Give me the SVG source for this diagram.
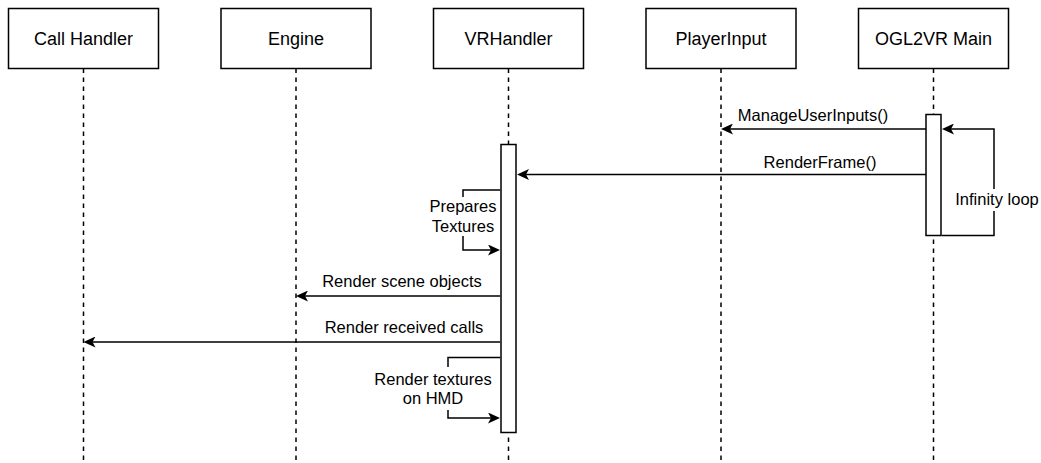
<svg xmlns="http://www.w3.org/2000/svg" width="1041" height="463" viewBox="0 0 1041 463">
  <style>
    .box { fill: #ffffff; stroke: #000000; stroke-width: 1.5; }
    .bar { fill: #ffffff; stroke: #000000; stroke-width: 1.5; }
    .life { fill: none; stroke: #000000; stroke-width: 1.5; stroke-dasharray: 4.5 4.5; }
    .msg { fill: none; stroke: #000000; stroke-width: 1.5; marker-end: url(#arrow); }
    .title { font-family: "Liberation Sans", Arial, Helvetica, sans-serif; font-size: 18px; fill: #000000; text-anchor: middle; }
    .lbl { font-family: "Liberation Sans", Arial, Helvetica, sans-serif; font-size: 16.5px; fill: #000000; text-anchor: middle; }
    .bg { fill: #ffffff; stroke: none; }
  </style>
  <defs>
    <marker id="arrow" viewBox="0 0 12 11" refX="8" refY="5.5" markerWidth="12" markerHeight="11" markerUnits="userSpaceOnUse" orient="auto">
      <path d="M12 5.5 L0 0 L3 5.5 L0 11 Z" fill="#000000"/>
    </marker>
  </defs>
  <rect width="1041" height="463" fill="#ffffff"/>

  <!-- lifelines -->
  <g id="lifelines">
    <line class="life" x1="83.5" y1="68.5" x2="83.5" y2="463"/>
    <line class="life" x1="296" y1="68.5" x2="296" y2="463"/>
    <line class="life" x1="508.5" y1="68.5" x2="508.5" y2="463"/>
    <line class="life" x1="721" y1="68.5" x2="721" y2="463"/>
    <line class="life" x1="933.5" y1="68.5" x2="933.5" y2="463"/>
  </g>

  <!-- participants -->
  <g id="call-handler">
    <rect class="box" x="8.5" y="8.5" width="150" height="60"/>
    <text class="title" x="83.5" y="45">Call Handler</text>
  </g>
  <g id="engine">
    <rect class="box" x="221" y="8.5" width="150" height="60"/>
    <text class="title" x="296" y="45">Engine</text>
  </g>
  <g id="vrhandler">
    <rect class="box" x="433.5" y="8.5" width="150" height="60"/>
    <text class="title" x="508.5" y="45">VRHandler</text>
    <rect class="bar" x="501" y="144.5" width="15" height="288"/>
  </g>
  <g id="player-input">
    <rect class="box" x="646" y="8.5" width="150" height="60"/>
    <text class="title" x="721" y="45">PlayerInput</text>
  </g>
  <g id="ogl2vr-main">
    <rect class="box" x="858.5" y="8.5" width="150" height="60"/>
    <text class="title" x="933.5" y="45">OGL2VR Main</text>
    <rect class="bar" x="926" y="114.5" width="15" height="121"/>
  </g>

  <!-- messages -->
  <g id="connectors">
    <path class="msg" d="M926 129 H725"/>
    <text class="lbl" x="813" y="121">ManageUserInputs()</text>

    <path class="msg" d="M926 174.5 H521"/>
    <text class="lbl" x="820" y="168">RenderFrame()</text>

    <path class="msg" d="M941.75 235.5 H994 V129 H946"/>
    <rect class="bg" x="956" y="189" width="82" height="22"/>
    <text class="lbl" x="997" y="205">Infinity loop</text>

    <path class="msg" d="M500.25 190 H463 V250 H496"/>
    <rect class="bg" x="428" y="197" width="70" height="39"/>
    <text class="lbl" x="463" y="212">Prepares</text>
    <text class="lbl" x="463" y="232">Textures</text>

    <path class="msg" d="M500.25 296 H300"/>
    <text class="lbl" x="402" y="287">Render scene objects</text>

    <path class="msg" d="M500.25 342 H87.5"/>
    <text class="lbl" x="404" y="333">Render received calls</text>

    <path class="msg" d="M500.25 357.5 H448 V418 H496"/>
    <rect class="bg" x="372" y="367" width="122" height="43"/>
    <text class="lbl" x="433" y="385">Render textures</text>
    <text class="lbl" x="433" y="404">on HMD</text>
  </g>
</svg>
